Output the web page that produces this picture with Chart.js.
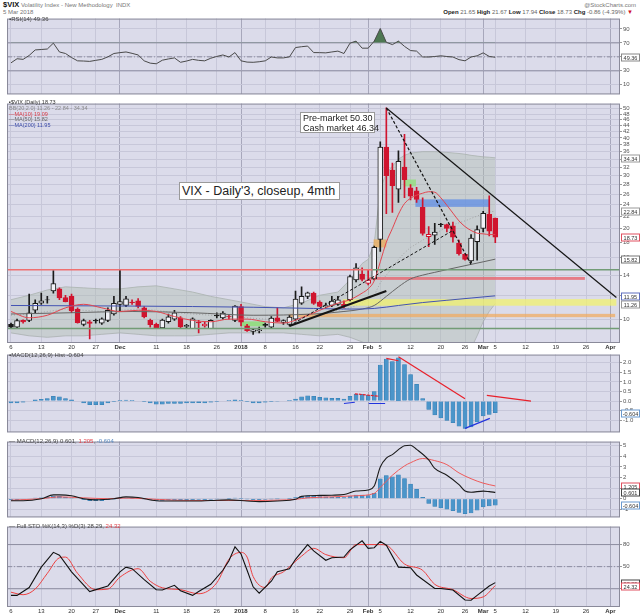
<!DOCTYPE html>
<html>
<head>
<meta charset="utf-8">
<script src="https://cdn.jsdelivr.net/npm/chart.js@4.4.1/dist/chart.umd.min.js"></script>
<style>
body { margin: 0; background: #fff; }
#wrap { position: relative; width: 640px; height: 614px; overflow: hidden; font-family: "Liberation Sans", Arial, sans-serif; }
#wrap canvas { position: absolute; left: 0; }
.t { position: absolute; white-space: nowrap; font-size: 6px; line-height: 6px; color: #444; }
.note { position: absolute; background: #fff; border: 1px solid #9a9a9a; color: #222; white-space: nowrap; box-sizing: border-box; font-family: "Liberation Sans", Arial, sans-serif; }
</style>
</head>
<body>
<div id="wrap">
  <div class="t" style="left:3px;top:2px;"><b style="font-size:7.5px;color:#111">$VIX</b> <span style="color:#777">Volatility Index - New Methodology&nbsp; INDX</span></div>
  <div class="t" style="left:3px;top:9px;color:#777">5 Mar 2018</div>
  <div class="t" style="right:4px;top:2px;color:#777">@StockCharts.com</div>
  <div class="t" style="right:7px;top:9px;color:#666"><b style="color:#222">Open</b> 21.65 <b style="color:#222">High</b> 21.67 <b style="color:#222">Low</b> 17.94 <b style="color:#222">Close</b> 18.73 <b style="color:#222">Chg</b> -0.86 (-4.39%) <span style="color:#d0102a">&#9660;</span></div>

  <canvas id="rsiChart" width="640" height="85" style="top:14px"></canvas>
  <canvas id="priceChart" width="640" height="251" style="top:99px"></canvas>
  <canvas id="histChart" width="640" height="87" style="top:350px"></canvas>
  <canvas id="macdChart" width="640" height="85" style="top:437px"></canvas>
  <canvas id="stoChart" width="640" height="92" style="top:522px"></canvas>

  <div class="t" style="left:9px;top:16px;color:#444">&#9642;RSI(14) 49.36</div>

  <div class="t" style="left:9px;top:100px;font-size:5.5px;line-height:5.8px">
    <div style="color:#333">&#9642;$VIX (Daily) 18.73</div>
    <div style="color:#888">BB(20,2.0) 11.26 - 22.84 - 34.34</div>
    <div style="color:#d83a44">&#8212;MA(10) 19.09</div>
    <div style="color:#666">&#8212;MA(50) 15.82</div>
    <div style="color:#3a4aa8">&#8212;MA(200) 11.95</div>
  </div>
  <div class="note" style="left:300px;top:112px;width:75px;height:21px;font-size:9px;line-height:9.5px;padding:1px 2px;">Pre-market 50.30<br>Cash market 46.34</div>
  <div class="note" style="left:179px;top:182px;width:161px;height:18px;font-size:12.5px;line-height:16px;padding:0 2px;">VIX - Daily'3, closeup, 4mth</div>

  <div class="t" style="left:9px;top:352px;color:#444">&#9642;MACD(12,26,9) Hist -0.604</div>
  <div class="t" style="left:9px;top:438px;color:#444">&#8212; MACD(12,26,9) 0.601, <span style="color:#e04048">1.205</span>, <span style="color:#5a8ac0">-0.604</span></div>
  <div class="t" style="left:9px;top:523px;color:#444">&#8212; Full STO %K(14,3) %D(3) 28.29, <span style="color:#e04048">24.32</span></div>
</div>

<script>
// VIX daily bars, index 0 = 6 Nov 2017 ... index 80 = 5 Mar 2018 (trading days)
const open = [9.6, 9.4, 9.9, 9.9, 10.7, 11.3, 11.6, 12.4, 12.6, 11.8,
    11.9, 10.8, 9.6, 9.8, 9.9, 9.7, 9.9, 10.4, 11.2, 11.1,
    11.4, 11.5, 10.9, 9.9, 9.6, 9.35, 9.8, 10.0, 10.1, 9.45,
    9.3, 9.75, 9.5, 9.3, 10.3, 10.1, 10.2, 9.9, 11.0, 9.5,
    9.1, 9.15, 9.6, 9.4, 10.1, 9.75, 9.6, 10.0, 11.3, 11.9,
    12.2, 11.4, 11.0, 11.1, 11.2, 11.2, 11.6, 13.5, 14.1, 13.15,
    13.6, 18.4, 37.3, 31.3, 27.0, 32.0, 27.3, 26.7, 23.5, 18.8,
    19.0, 20.7, 20.6, 20.4, 17.9, 16.4, 15.6, 18.1, 20.0, 22.3,
    21.65];
const high = [9.7, 10.0, 9.95, 12.1, 11.6, 12.2, 11.9, 14.5, 12.7, 12.0,
    12.1, 10.9, 10.0, 9.9, 10.0, 10.1, 10.9, 11.9, 14.58, 11.9,
    11.6, 11.7, 11.0, 10.0, 9.7, 10.0, 10.4, 10.7, 10.2, 9.6,
    10.1, 9.9, 9.8, 9.95, 10.5, 10.6, 10.3, 11.1, 11.2, 9.6,
    9.3, 9.4, 9.7, 10.2, 10.9, 9.95, 10.3, 12.4, 12.8, 12.3,
    12.3, 11.5, 11.3, 11.9, 11.9, 11.5, 14.0, 15.3, 14.8, 14.6,
    17.5, 38.8, 50.3, 33.0, 36.2, 41.1, 28.0, 27.4, 25.3, 20.3,
    20.8, 20.8, 20.7, 21.0, 18.3, 16.5, 19.1, 20.4, 22.8, 25.7,
    21.67];
const low = [9.3, 9.3, 9.7, 9.8, 10.5, 11.2, 11.3, 12.2, 11.6, 11.4,
    10.5, 9.7, 9.5, 8.6, 9.7, 9.6, 9.8, 10.3, 10.6, 11.0,
    11.2, 10.9, 10.1, 9.4, 9.3, 9.3, 9.7, 9.9, 9.3, 9.3,
    9.3, 9.0, 9.4, 9.3, 10.1, 10.0, 10.0, 9.8, 9.5, 9.1,
    8.9, 9.0, 9.4, 9.3, 9.8, 9.6, 9.5, 9.9, 11.2, 11.7,
    11.2, 11.0, 10.9, 11.0, 11.1, 10.9, 11.5, 13.3, 13.4, 13.0,
    13.5, 16.8, 22.4, 22.6, 24.4, 25.3, 24.9, 24.4, 19.0, 17.4,
    17.7, 20.3, 19.5, 18.0, 16.3, 15.7, 15.4, 15.7, 19.5, 18.9,
    17.94];
const close = [9.40, 9.89, 9.78, 10.50, 11.29, 11.50, 11.59, 13.13, 11.76, 11.43,
    10.65, 9.73, 9.88, 9.67, 9.87, 10.03, 10.70, 11.28, 11.43, 11.68,
    11.33, 11.02, 10.16, 9.58, 9.34, 9.92, 10.18, 10.49, 9.42, 9.53,
    10.03, 9.72, 9.62, 9.90, 10.25, 10.47, 10.18, 11.04, 9.77, 9.15,
    9.22, 9.22, 9.52, 10.08, 9.82, 9.88, 10.16, 11.66, 11.91, 12.22,
    11.27, 11.03, 11.10, 11.47, 11.58, 11.08, 13.84, 14.79, 13.54, 13.47,
    17.31, 37.32, 29.98, 27.73, 33.46, 29.06, 25.61, 24.97, 19.26, 19.13,
    19.46, 20.60, 20.02, 18.72, 16.49, 15.80, 18.59, 19.85, 22.47, 19.59,
    18.73];

// overlays
const bbDays = [0, 3, 6, 9, 12, 15, 18, 21, 24, 27, 30, 33, 36, 39, 42, 45, 48, 51, 54, 56, 58, 59, 60,
    61, 62, 63, 64, 65, 66, 68, 70, 72, 74, 75, 76, 77, 78, 79, 80];
const bbUpper = [11.6, 12.0, 12.5, 12.8, 12.7, 12.6, 12.6, 12.8, 12.9, 12.6, 12.3, 11.9, 11.6, 11.3, 11.0, 10.9, 11.3, 12.0, 12.3, 13.5, 15.3, 15.8, 17.8,
    27.0, 30.5, 32.2, 34.0, 35.0, 35.6, 36.0, 36.0, 35.8, 35.5, 35.3, 35.0, 34.8, 34.6, 34.5, 34.34];
const bbMiddle = [10.3, 10.4, 10.6, 10.8, 10.7, 10.6, 10.7, 10.8, 10.7, 10.5, 10.4, 10.3, 10.2, 10.1, 10.0, 9.9, 10.1, 10.4, 10.7, 10.9, 11.3, 11.6, 12.0,
    13.2, 14.0, 14.8, 15.8, 16.6, 17.3, 18.3, 19.2, 20.2, 20.9, 21.2, 21.6, 22.0, 22.4, 22.7, 22.84];
const bbLower = [9.0, 8.8, 8.7, 8.8, 8.8, 8.9, 9.0, 8.9, 8.8, 8.8, 8.8, 8.9, 9.0, 9.0, 9.0, 9.0, 8.9, 8.8, 8.9, 8.7, 8.4, 8.2, 7.5,
    6.0, 6.0, 6.0, 6.0, 6.0, 6.0, 6.0, 6.0, 6.0, 6.5, 7.2, 8.0, 8.8, 9.8, 10.6, 11.26];
const ma10Days = [0, 3, 6, 9, 12, 15, 18, 21, 24, 27, 30, 33, 36, 39, 42, 45, 48, 51, 54, 56, 58, 59, 60,
    61, 62, 63, 64, 65, 66, 67, 68, 69, 70, 71, 72, 73, 74, 75, 76, 77, 78, 79, 80];
const ma10 = [10.6, 10.1, 10.3, 10.9, 11.2, 10.9, 10.6, 10.7, 10.6, 10.2, 9.9, 9.8, 10.0, 10.0, 9.8, 9.7, 10.1, 10.7, 11.3, 11.6, 12.2, 12.6, 13.4,
    15.5, 18.0, 20.0, 22.3, 24.2, 25.2, 25.8, 26.2, 26.5, 26.4, 25.3, 23.9, 22.5, 21.2, 20.3, 19.7, 19.3, 19.2, 19.1, 19.09];
const ma50Days = [0, 10, 20, 30, 40, 50, 55, 58, 60, 62, 64, 66, 68, 70, 72, 74, 76, 78, 80];
const ma50 = [10.4, 10.5, 10.6, 10.5, 10.3, 10.4, 10.6, 10.8, 11.1, 11.9, 12.8, 13.6, 14.0, 14.3, 14.6, 14.9, 15.2, 15.5, 15.82];
const ma200Days = [0, 20, 40, 50, 56, 60, 64, 68, 72, 76, 80];
const ma200 = [11.1, 11.05, 10.95, 10.85, 10.8, 10.85, 11.1, 11.35, 11.55, 11.75, 11.95];

// indicators
const rsi14 = [41.4, 47.3, 46.4, 52.0, 59.9, 60.5, 61.2, 69.6, 57.0, 54.8,
    49.0, 44.3, 44.0, 43.5, 45.0, 46.4, 50.0, 54.8, 56.0, 57.0,
    55.0, 52.7, 44.3, 41.0, 40.1, 45.2, 47.0, 48.5, 42.2, 44.0,
    46.4, 45.0, 44.3, 48.0, 50.6, 52.7, 49.8, 56.1, 44.3, 42.5,
    42.2, 43.0, 44.3, 49.8, 48.5, 48.5, 50.0, 63.3, 64.5, 65.4,
    56.1, 56.0, 55.7, 57.0, 58.2, 54.8, 69.6, 72.5, 62.4, 62.4,
    72.5, 90.6, 70.8, 67.5, 72.5, 65.0, 59.0, 58.2, 49.8, 49.8,
    50.5, 51.5, 50.5, 49.8, 46.0, 44.3, 49.8, 51.5, 55.7, 50.6,
    49.36];
const macdHist = [-0.09, -0.09, -0.06, 0.0, 0.06, 0.09, 0.125, 0.25, 0.22, 0.125,
    0.06, 0.0, -0.09, -0.19, -0.19, -0.19, -0.09, -0.03, 0.03, 0.05,
    0.03, 0.0, -0.03, -0.09, -0.16, -0.16, -0.125, -0.125, -0.125, -0.09,
    -0.09, -0.08, -0.09, -0.06, -0.03, 0.0, 0.03, 0.06, 0.03, -0.03,
    -0.09, -0.09, -0.06, -0.03, -0.02, 0.0, 0.03, 0.1, 0.22, 0.28,
    0.25, 0.2, 0.17, 0.15, 0.14, 0.1, 0.25, 0.35, 0.35, 0.3,
    0.5, 1.88, 2.19, 2.06, 2.25, 1.9, 1.375, 0.875, 0.125, -0.44,
    -0.72, -0.875, -1.0, -1.125, -1.3, -1.42, -1.35, -1.08, -0.77, -0.69,
    -0.604];
const macdDays = [0, 2, 5, 7, 8, 10, 12, 14, 17, 19, 21, 24, 27, 30, 33, 36, 39, 41, 44, 47, 48,
    51, 53, 55, 57, 59, 60, 61, 62, 63, 65, 66, 67, 69, 70, 72, 74, 75, 76, 78, 79, 80];
const macdLine = [-0.19, -0.19, 0, 0.36, 0.36, 0.28, 0, -0.11, 0, 0.17, 0.11, -0.19, -0.22, -0.22, -0.17, -0.11, -0.22, -0.28, -0.22, -0.06, 0.22,
    0.31, 0.33, 0.39, 0.72, 0.83, 1.19, 3.0, 3.83, 4.17, 5.0, 5.06, 4.67, 3.67, 2.86, 2.22, 1.33, 0.72, 0.61, 0.72, 0.67, 0.601];
const signalDays = [0, 5, 8, 12, 16, 19, 22, 27, 32, 36, 40, 44, 47, 49, 53, 57, 60, 61, 63, 65, 66, 68, 70, 72, 74, 76, 78, 80];
const signalLine = [-0.14, 0, 0.17, 0.08, 0, 0.06, 0, -0.14, -0.17, -0.17, -0.17, -0.14, -0.06, 0.08, 0.17, 0.28, 0.5, 1.06, 2.22, 3.1, 3.4, 3.8, 3.6, 3.22, 2.44, 1.89, 1.47, 1.205];
const stoKDays = [0, 1, 3, 5, 7, 8, 10, 13, 16, 18, 19, 20, 22, 24, 25, 27, 28, 30, 31, 33, 35, 36, 37, 38, 39, 40, 41,
    43, 44, 46, 47, 49, 50, 52, 53, 55, 56, 58, 59, 60, 61, 62, 64, 66, 67, 70, 71, 73, 75, 76, 77, 79, 80];
const stoK = [11, 11, 21.7, 49.4, 69.4, 65.5, 43, 16.2, 23.8, 43, 49.4, 47.2, 32.3, 18.7, 18.3, 24.7, 17.4, 11, 16.2, 26, 45.1, 57.9, 77, 67.2, 45.1, 22.6, 14,
    30.2, 43, 47.2, 60, 80, 71.5, 58.7, 62.1, 63, 72.8, 85.1, 74.9, 75.7, 84.3, 79.1, 49.4, 48.5, 38.7, 20.4, 20.4, 18.3, 4.7, 4.3, 11, 23.8, 28.29];
const stoDDays = [0, 2, 4, 6, 8, 9, 11, 14, 16, 18, 21, 23, 25, 28, 31, 34, 36, 38, 39, 40, 42, 43, 45, 48, 50,
    52, 55, 57, 61, 62, 65, 68, 70, 73, 76, 78, 80];
const stoD = [15.3, 11.9, 19.6, 40.9, 62, 63, 40.9, 18.7, 19.6, 35.7, 47.2, 30.2, 21.3, 18.7, 13.2, 28.1, 60, 69.4, 63, 36.6, 21.7, 34.5, 43, 64.3, 74.9,
    66.4, 62.1, 80, 80, 79.1, 53.6, 45.1, 26, 18.7, 6.8, 8.9, 24.32];

// date axis: day index -> label
const tickDays = [0, 5, 10, 14, 18, 24, 29, 34, 38, 42, 47, 51, 56, 59, 61, 66, 71, 75, 78, 80, 85, 90, 95, 99];
const tickLabels = ['6', '13', '20', '27', 'Dec', '11', '18', '26', '2018', '8', '16', '22', '29', 'Feb', '5', '12', '20', '26', 'Mar', '5', '12', '19', '26', 'Apr'];
const monthLabels = ['Dec', '2018', 'Feb', 'Mar', 'Apr'];
const priceTicks = [10, 12, 14, 16, 18, 20, 22, 24, 26, 28, 30, 32, 34, 36, 38, 40, 42, 44, 46, 48, 50];

// chartist's drawings on the price panel
const priceLines = [
    { from: [62, 50.3], to: [100, 11.8], color: '#151515', width: 1.2 },
    { from: [62, 50.3], to: [76, 15.2], color: '#151515', width: 1.2, dash: [3, 2] },
    { from: [46, 9.5], to: [72.8, 19.6], color: '#151515', width: 1, dash: [3, 2] },
    { from: [46, 9.49], to: [62, 12.4], color: '#151515', width: 2 },
    { from: [-0.66, 14.6], to: [59.7, 14.6], color: '#ef7070', width: 1.5 },
    { from: [59.7, 14.6], to: [100.6, 14.6], color: '#729c76', width: 1.5 },
    { from: [-0.66, 9.3], to: [100.6, 9.3], color: '#729c76', width: 1.5 }
];
const zones = [
    { from: 66.8, to: 79.1, bottom: 23.6, top: 25.0, color: 'rgba(95,140,228,0.75)' },
    { from: 64.9, to: 66.9, bottom: 27.6, top: 29.1, color: 'rgba(150,222,130,0.85)' },
    { from: 59.9, to: 62.0, bottom: 17.3, top: 18.4, color: 'rgba(240,170,80,0.7)' },
    { from: 59.2, to: 94.8, bottom: 13.5, top: 13.8, color: 'rgba(232,100,110,0.8)' },
    { from: 54.8, to: 100, bottom: 11.08, top: 11.65, color: 'rgba(242,242,110,0.75)' },
    { from: 45.9, to: 99.8, bottom: 10.15, top: 10.41, color: 'rgba(242,170,90,0.7)' },
    { from: 38.1, to: 41.9, bottom: 9.46, top: 9.83, color: 'rgba(140,222,120,0.85)' }
];
const histLines = [
    { from: [64, 2.31], to: [75, 0.12], color: '#e8202a', width: 1.2 },
    { from: [62, 2.22], to: [64, 2.1], color: '#e8202a', width: 1.2 },
    { from: [56.8, 0.38], to: [60.8, 0.25], color: '#e8202a', width: 1.2, dash: [3, 1] },
    { from: [55, -0.125], to: [56.8, -0.06], color: '#2233dd', width: 1.2 },
    { from: [59.1, -0.125], to: [61.8, -0.125], color: '#2233dd', width: 1.2 },
    { from: [75, -1.42], to: [79.1, -0.9], color: '#2233dd', width: 1.2 },
    { from: [78.6, 0.3], to: [85.9, 0.0], color: '#e8202a', width: 1.2 }
];

Chart.defaults.font.family = '"Liberation Sans", Arial, sans-serif';
Chart.defaults.font.size = 6;

const PANEL_BG = '#dbdbea';
const GRID = '#c7c7d9';

function pts(days, vals) {
    return days.map((d, k) => ({ x: d, y: vals[k] }));
}

function drawnLine(l) {
    return {
        type: 'line', data: [{ x: l.from[0], y: l.from[1] }, { x: l.to[0], y: l.to[1] }],
        borderColor: l.color, borderWidth: l.width || 1, borderDash: l.dash || [], order: 0
    };
}

function refLine(v, dashed) {
    return {
        type: 'line', data: [{ x: -0.66, y: v }, { x: 100.6, y: v }],
        borderColor: '#8d8da1', borderWidth: 1, borderDash: dashed ? [5, 2, 1, 2] : [], order: 9
    };
}

function isMonthTick(tick) {
    return tick && monthLabels.includes(tickLabels[tickDays.indexOf(tick.value)]);
}

function xAxis(showLabels) {
    return {
        type: 'linear', min: -0.66, max: 100.6, offset: false,
        afterBuildTicks: s => { s.ticks = tickDays.map(v => ({ value: v })); },
        afterFit: s => { s.height = showLabels ? 7 : 0; },
        border: { display: false },
        grid: { color: c => isMonthTick(c.tick) ? '#a7a7bb' : GRID, drawTicks: false, offset: false },
        ticks: {
            display: showLabels, autoSkip: false, maxRotation: 0, padding: 0.5, color: '#333',
            font: c => ({ size: 6, weight: isMonthTick(c.tick) ? 'bold' : 'normal' }),
            callback: v => tickLabels[tickDays.indexOf(v)]
        }
    };
}

function yAxis(extra, ticks, fmt) {
    return Object.assign({
        position: 'right',
        afterFit: s => { s.width = 20; },
        afterBuildTicks: s => { s.ticks = ticks.map(v => ({ value: v })); },
        border: { display: false },
        grid: { color: GRID, drawTicks: true, tickLength: 2, tickColor: '#999' },
        ticks: { color: '#555', padding: 1, autoSkip: false, callback: fmt || (v => String(v)) }
    }, extra);
}

// panel background, border, drawn zones and last-value tags
const panelDeco = {
    id: 'panelDeco',
    beforeDraw(chart) {
        const { ctx, chartArea: a } = chart;
        ctx.save();
        ctx.fillStyle = PANEL_BG;
        ctx.fillRect(a.left, a.top, a.right - a.left, a.bottom - a.top);
        ctx.restore();
    },
    beforeDatasetDraw(chart, args, opts) {
        if (!opts.zones || chart.data.datasets[args.index].label !== 'wicks') return;
        const { ctx, chartArea: a, scales: { x, y } } = chart;
        ctx.save();
        ctx.beginPath();
        ctx.rect(a.left, a.top, a.right - a.left, a.bottom - a.top);
        ctx.clip();
        opts.zones.forEach(z => {
            const x0 = x.getPixelForValue(z.from), x1 = x.getPixelForValue(z.to);
            const y0 = y.getPixelForValue(z.top), y1 = y.getPixelForValue(z.bottom);
            ctx.fillStyle = z.color;
            ctx.fillRect(x0, y0, x1 - x0, y1 - y0);
        });
        ctx.restore();
    },
    afterDraw(chart, args, opts) {
        const { ctx, chartArea: a, scales: { y } } = chart;
        ctx.save();
        ctx.strokeStyle = '#8a8a9a';
        ctx.lineWidth = 1;
        ctx.strokeRect(a.left + 0.5, a.top + 0.5, a.right - a.left - 1, a.bottom - a.top - 1);
        (opts.tags || []).forEach(t => {
            const py = Math.round(y.getPixelForValue(t.value)) + 0.5;
            ctx.fillStyle = '#fff';
            ctx.fillRect(a.right + 1.5, py - 3.5, 18, 7);
            ctx.strokeStyle = t.color;
            ctx.strokeRect(a.right + 1.5, py - 3.5, 18, 7);
            ctx.fillStyle = '#333';
            ctx.font = '5.5px "Liberation Sans", Arial, sans-serif';
            ctx.textAlign = 'center';
            ctx.textBaseline = 'middle';
            ctx.fillText(t.text, a.right + 10.5, py + 0.5);
        });
        ctx.restore();
    }
};

function makeChart(id, datasets, yScale, showLabels, deco) {
    return new Chart(document.getElementById(id), {
        type: 'line',
        data: { datasets: datasets },
        options: {
            responsive: false,
            animation: false,
            events: [],
            layout: { padding: { left: 7, right: 0, top: 0, bottom: 0 }, autoPadding: false },
            elements: { point: { radius: 0 }, line: { borderWidth: 1, tension: 0 } },
            plugins: { legend: { display: false }, tooltip: { enabled: false }, panelDeco: deco || {} },
            scales: { x: xAxis(showLabels), y: yScale }
        },
        plugins: [panelDeco]
    });
}

// RSI
makeChart('rsiChart', [
    refLine(70), refLine(30), refLine(50, true),
    {
        type: 'line', data: rsi14.map((v, i) => ({ x: i, y: v })), borderColor: '#4a4a4a', borderWidth: 1, order: 1,
        fill: { target: { value: 70 }, above: '#4d7752', below: 'rgba(0,0,0,0)' }
    }
], yAxis({ min: -3.7, max: 104.7 }, [10, 30, 50, 70, 90]), false,
    { tags: [{ value: 49.36, text: '49.36', color: '#888' }] });

// price panel
const candleColor = close.map((c, i) => (i > 0 && c < close[i - 1]) ? '#d0142e' : '#1a1a1a');
const bodyFill = close.map((c, i) => c > open[i] ? '#f1f1f7' : candleColor[i]);

makeChart('priceChart', [
    { type: 'line', data: pts(bbDays, bbUpper), borderColor: '#a9b0b0', borderWidth: 0.8, order: 12 },
    { type: 'line', data: pts(bbDays, bbLower), borderColor: '#a9b0b0', borderWidth: 0.8, order: 11, fill: '-1', backgroundColor: 'rgba(173,188,174,0.42)' },
    { type: 'line', data: pts(bbDays, bbMiddle), borderColor: '#9a9a9a', borderWidth: 0.8, borderDash: [1, 2], order: 10 },
    {
        type: 'bar', label: 'wicks', data: close.map((c, i) => ({ x: i, y: [low[i], high[i]] })),
        backgroundColor: candleColor, barThickness: 1, grouped: false, order: 6
    },
    {
        type: 'bar', data: close.map((c, i) => ({ x: i, y: [open[i], c] })),
        backgroundColor: bodyFill, borderColor: candleColor, borderWidth: 1, borderSkipped: false,
        barThickness: 5, grouped: false, order: 5
    },
    { type: 'line', data: pts(ma200Days, ma200), borderColor: '#4353b3', borderWidth: 1, cubicInterpolationMode: 'monotone', order: 3 },
    { type: 'line', data: pts(ma50Days, ma50), borderColor: '#666', borderWidth: 1, cubicInterpolationMode: 'monotone', order: 3 },
    { type: 'line', data: pts(ma10Days, ma10), borderColor: '#e2454f', borderWidth: 1, cubicInterpolationMode: 'monotone', order: 2 },
    ...priceLines.map(drawnLine)
], yAxis({ type: 'logarithmic', min: 8.33, max: 52.0 }, priceTicks), true, {
    zones: zones,
    tags: [
        { value: 34.34, text: '34.34', color: '#999' },
        { value: 22.84, text: '22.84', color: '#999' },
        { value: 18.73, text: '18.73', color: '#e05060' },
        { value: 15.82, text: '15.82', color: '#777' },
        { value: 11.95, text: '11.95', color: '#6070c0' },
        { value: 11.26, text: '11.26', color: '#999' }
    ]
});

// MACD histogram
const histBars = {
    type: 'bar', data: macdHist.map((v, i) => ({ x: i, y: v })),
    backgroundColor: '#4b95ca', borderColor: '#357cb0', borderWidth: 0.5, barThickness: 4, grouped: false, order: 5
};
makeChart('histChart', [histBars, ...histLines.map(drawnLine)],
    yAxis({ min: -1.63, max: 2.42 }, [-1, -0.5, 0, 0.5, 1, 1.5, 2], v => v.toFixed(1)), false,
    { tags: [{ value: -0.604, text: '-0.604', color: '#6a9ad0' }] });

// MACD
makeChart('macdChart', [
    Object.assign({}, histBars, { data: macdHist.map((v, i) => ({ x: i, y: v })) }),
    { type: 'line', data: pts(signalDays, signalLine), borderColor: '#ee5a5a', borderWidth: 1, cubicInterpolationMode: 'monotone', order: 2 },
    { type: 'line', data: pts(macdDays, macdLine), borderColor: '#1a1a1a', borderWidth: 1.1, cubicInterpolationMode: 'monotone', order: 1 }
], yAxis({ min: -1.77, max: 5.4 }, [-1, 0, 1, 2, 3, 4, 5]), false, {
    tags: [
        { value: 1.205, text: '1.205', color: '#e05060' },
        { value: 0.601, text: '0.601', color: '#444' },
        { value: -0.604, text: '-0.604', color: '#6a9ad0' }
    ]
});

// Full stochastics
makeChart('stoChart', [
    refLine(80), refLine(20), refLine(50, true),
    { type: 'line', data: pts(stoDDays, stoD), borderColor: '#ee4040', borderWidth: 1, cubicInterpolationMode: 'monotone', order: 2 },
    { type: 'line', data: pts(stoKDays, stoK), borderColor: '#111', borderWidth: 1.1, order: 1 }
], yAxis({ min: -4.8, max: 104.4 }, [20, 50, 80]), true, {
    tags: [
        { value: 28.29, text: '28.29', color: '#444' },
        { value: 24.32, text: '24.32', color: '#e05060' }
    ]
});
</script>
</body>
</html>
